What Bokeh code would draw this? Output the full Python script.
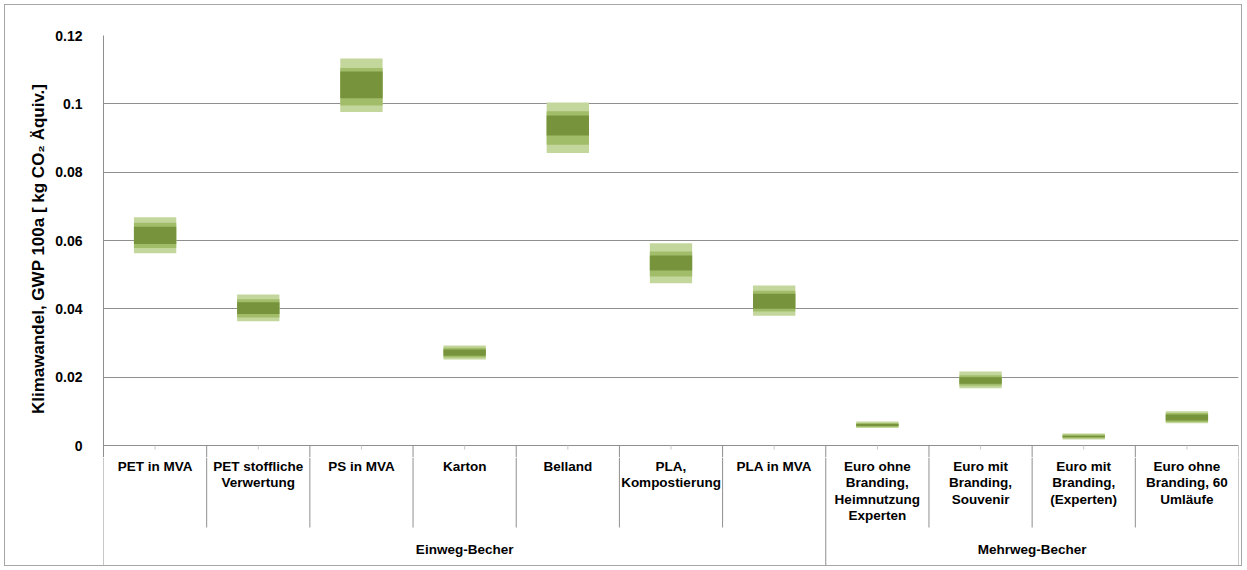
from bokeh.plotting import figure
from bokeh.layouts import column
from bokeh.models import Range1d, FixedTicker, ColumnDataSource
from bokeh.core.properties import value
from bokeh.embed import file_html
from bokeh.resources import INLINE

# ---- data ----
categories = ["PET in MVA", "PET stoffliche\nVerwertung", "PS in MVA", "Karton", "Belland",
              "PLA,\nKompostierung", "PLA in MVA",
              "Euro ohne\nBranding,\nHeimnutzung\nExperten", "Euro mit\nBranding,\nSouvenir",
              "Euro mit\nBranding,\n(Experten)", "Euro ohne\nBranding, 60\nUmläufe"]
groups = ["Einweg-Becher", "Mehrweg-Becher"]
group_sizes = [7, 4]

low      = [0.0563, 0.0364, 0.0976, 0.0252, 0.0856, 0.0475, 0.0380, 0.0051, 0.0168, 0.0018, 0.0065]
mid_low  = [0.0578, 0.0375, 0.0995, 0.0258, 0.0880, 0.0495, 0.0392, 0.0054, 0.0175, 0.0021, 0.0069]
core_low = [0.0590, 0.0385, 0.1016, 0.0263, 0.0907, 0.0512, 0.0400, 0.0057, 0.0181, 0.0024, 0.0073]
core_high= [0.0640, 0.0419, 0.1095, 0.0281, 0.0966, 0.0556, 0.0444, 0.0063, 0.0200, 0.0029, 0.0091]
mid_high = [0.0652, 0.0428, 0.1105, 0.0286, 0.0978, 0.0568, 0.0453, 0.0066, 0.0206, 0.0032, 0.0095]
high     = [0.0668, 0.0442, 0.1133, 0.0293, 0.1004, 0.0592, 0.0468, 0.0070, 0.0217, 0.0035, 0.0100]

y_ticks = [0, 0.02, 0.04, 0.06, 0.08, 0.1, 0.12]
y_tick_labels = ["0", "0.02", "0.04", "0.06", "0.08", "0.1", "0.12"]
y_title = "Klimawandel, GWP 100a  [ kg CO\u2082 \u00c4quiv.]"

FONT = "Liberation Sans"
GRID = "#8f8f8f"
n = len(categories)
xs = [i + 0.5 for i in range(n)]

src = ColumnDataSource(dict(x=xs, low=low, mid_low=mid_low, core_low=core_low,
                            core_high=core_high, mid_high=mid_high, high=high))

group_edges = [0]
for g in group_sizes:
    group_edges.append(group_edges[-1] + g)
inner = [i for i in range(n + 1) if i not in group_edges]
all_edges = list(range(n + 1))

xr = Range1d(0, n)
Y_MIN = -0.0035

top = figure(width=1236, height=452, x_range=xr, y_range=Range1d(Y_MIN, 0.12),
             output_backend="svg", toolbar_location=None, x_axis_location=None,
             min_border_left=98, min_border_right=3, min_border_top=30, min_border_bottom=0)
top.outline_line_color = None
top.xgrid.visible = False
top.ygrid.grid_line_color = GRID
top.ygrid.ticker = FixedTicker(ticks=y_ticks)
ya = top.yaxis[0]
ya.ticker = FixedTicker(ticks=y_ticks)
ya.major_label_overrides = {t: s for t, s in zip(y_ticks, y_tick_labels)}
ya.major_tick_line_color = None
ya.minor_tick_line_color = None
ya.axis_line_color = GRID
ya.major_label_standoff = 15
ya.major_label_text_font = FONT
ya.major_label_text_font_style = "bold"
ya.major_label_text_font_size = "14px"
ya.major_label_text_color = "black"
ya.axis_label = y_title
ya.axis_label_text_font = FONT
ya.axis_label_text_font_style = "bold"
ya.axis_label_text_font_size = "17px"
ya.axis_label_text_color = "black"
ya.axis_label_standoff = 4

bw = 0.41
top.vbar(x="x", bottom="low", top="high", width=bw, source=src, fill_color="#c3d69b", line_color=None)
top.vbar(x="x", bottom="mid_low", top="mid_high", width=bw, source=src, fill_color="#a2bd6a", line_color=None)
top.vbar(x="x", bottom="core_low", top="core_high", width=bw, source=src, fill_color="#77933c", line_color=None)

# separators just below the axis (upper part of the label area)
top.segment(x0=all_edges, y0=[0] * len(all_edges), x1=all_edges, y1=[Y_MIN] * len(all_edges),
            line_color=GRID, line_width=1)
top.segment(x0=xs, y0=[0] * n, x1=xs, y1=[-0.0012] * n, line_color="#c8c8c8", line_width=1)

# ---- category label area (y in pixels below the value axis) ----
bot = figure(width=1236, height=108, x_range=xr, y_range=Range1d(-120, -12),
             output_backend="svg", toolbar_location=None,
             x_axis_location=None, y_axis_location=None,
             min_border_left=98, min_border_right=3, min_border_top=0, min_border_bottom=0)
bot.outline_line_color = None
bot.grid.visible = False

bot.segment(x0=inner, y0=[-12] * len(inner), x1=inner, y1=[-82] * len(inner), line_color=GRID, line_width=1)
bot.segment(x0=group_edges, y0=[-12] * len(group_edges), x1=group_edges, y1=[-120] * len(group_edges),
            line_color=GRID, line_width=1)

bot.text(x=xs, y=[-13] * n, text=categories, text_align="center", text_baseline="top",
         text_font=value(FONT), text_font_style="bold", text_font_size="13.5px",
         text_line_height=1.1, text_color="black")
gx = [(group_edges[k] + group_edges[k + 1]) / 2 for k in range(len(groups))]
bot.text(x=gx, y=[-104] * len(groups), text=groups, text_align="center", text_baseline="middle",
         text_font=value(FONT), text_font_style="bold", text_font_size="13.5px", text_color="black")

layout = column(top, bot, spacing=0, margin=(4, 0, 0, 4),
                styles={"border": "1px solid #a6a6a6"})
open("out.html", "w").write(file_html(layout, INLINE))
